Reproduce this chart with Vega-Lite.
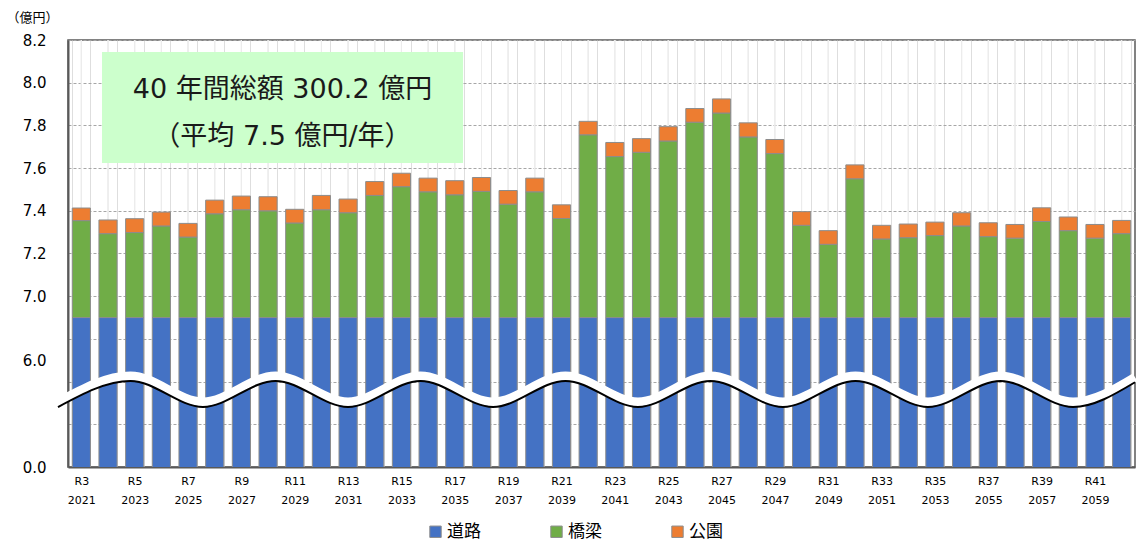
{
  "$schema": "https://vega.github.io/schema/vega-lite/v6.json",
  "width": 1067,
  "height": 427,
  "autosize": {"type": "none"},
  "padding": {"left": 68, "top": 40, "right": 12, "bottom": 75},
  "background": "white",
  "config": {
    "view": {"stroke": "#595959", "strokeWidth": 1.5},
    "font": "DejaVu Sans"
  },
  "datasets": {
    "costs": [
      {"year": 2021, "道路": 6.9, "橋梁": 0.454, "公園": 0.059},
      {"year": 2022, "道路": 6.9, "橋梁": 0.393, "公園": 0.064},
      {"year": 2023, "道路": 6.9, "橋梁": 0.398, "公園": 0.065},
      {"year": 2024, "道路": 6.9, "橋梁": 0.429, "公園": 0.065},
      {"year": 2025, "道路": 6.9, "橋梁": 0.377, "公園": 0.064},
      {"year": 2026, "道路": 6.9, "橋梁": 0.486, "公園": 0.064},
      {"year": 2027, "道路": 6.9, "橋梁": 0.505, "公園": 0.064},
      {"year": 2028, "道路": 6.9, "橋梁": 0.500, "公園": 0.066},
      {"year": 2029, "道路": 6.9, "橋梁": 0.443, "公園": 0.064},
      {"year": 2030, "道路": 6.9, "橋梁": 0.505, "公園": 0.067},
      {"year": 2031, "道路": 6.9, "橋梁": 0.491, "公園": 0.064},
      {"year": 2032, "道路": 6.9, "橋梁": 0.572, "公園": 0.065},
      {"year": 2033, "道路": 6.9, "橋梁": 0.613, "公園": 0.063},
      {"year": 2034, "道路": 6.9, "橋梁": 0.589, "公園": 0.064},
      {"year": 2035, "道路": 6.9, "橋梁": 0.575, "公園": 0.066},
      {"year": 2036, "道路": 6.9, "橋梁": 0.591, "公園": 0.065},
      {"year": 2037, "道路": 6.9, "橋梁": 0.531, "公園": 0.064},
      {"year": 2038, "道路": 6.9, "橋梁": 0.589, "公園": 0.064},
      {"year": 2039, "道路": 6.9, "橋梁": 0.464, "公園": 0.064},
      {"year": 2040, "道路": 6.9, "橋梁": 0.856, "公園": 0.063},
      {"year": 2041, "道路": 6.9, "橋梁": 0.754, "公園": 0.066},
      {"year": 2042, "道路": 6.9, "橋梁": 0.774, "公園": 0.064},
      {"year": 2043, "道路": 6.9, "橋梁": 0.827, "公園": 0.067},
      {"year": 2044, "道路": 6.9, "橋梁": 0.915, "公園": 0.064},
      {"year": 2045, "道路": 6.9, "橋梁": 0.958, "公園": 0.066},
      {"year": 2046, "道路": 6.9, "橋梁": 0.846, "公園": 0.066},
      {"year": 2047, "道路": 6.9, "橋梁": 0.768, "公園": 0.066},
      {"year": 2048, "道路": 6.9, "橋梁": 0.432, "公園": 0.064},
      {"year": 2049, "道路": 6.9, "橋梁": 0.343, "公園": 0.064},
      {"year": 2050, "道路": 6.9, "橋梁": 0.650, "公園": 0.065},
      {"year": 2051, "道路": 6.9, "橋梁": 0.368, "公園": 0.064},
      {"year": 2052, "道路": 6.9, "橋梁": 0.374, "公園": 0.064},
      {"year": 2053, "道路": 6.9, "橋梁": 0.384, "公園": 0.063},
      {"year": 2054, "道路": 6.9, "橋梁": 0.429, "公園": 0.062},
      {"year": 2055, "道路": 6.9, "橋梁": 0.379, "公園": 0.065},
      {"year": 2056, "道路": 6.9, "橋梁": 0.372, "公園": 0.064},
      {"year": 2057, "道路": 6.9, "橋梁": 0.450, "公園": 0.064},
      {"year": 2058, "道路": 6.9, "橋梁": 0.407, "公園": 0.064},
      {"year": 2059, "道路": 6.9, "橋梁": 0.372, "公園": 0.064},
      {"year": 2060, "道路": 6.9, "橋梁": 0.393, "公園": 0.062}
    ],
    "wave": [
      {"pos": -0.375, "level": 6.481},
      {"pos": 2.343, "level": 6.603},
      {"pos": 5.061, "level": 6.481},
      {"pos": 7.779, "level": 6.603},
      {"pos": 10.497, "level": 6.481},
      {"pos": 13.215, "level": 6.603},
      {"pos": 15.933, "level": 6.481},
      {"pos": 18.65, "level": 6.603},
      {"pos": 21.368, "level": 6.481},
      {"pos": 24.086, "level": 6.603},
      {"pos": 26.804, "level": 6.481},
      {"pos": 29.522, "level": 6.603},
      {"pos": 32.24, "level": 6.481},
      {"pos": 34.958, "level": 6.603},
      {"pos": 37.676, "level": 6.481},
      {"pos": 40.0, "level": 6.597}
    ]
  },
  "layer": [
    {
      "data": {"name": "costs"},
      "transform": [{"fold": ["道路", "橋梁", "公園"], "as": ["区分", "億円"]}],
      "encoding": {
        "x": {
          "field": "year",
          "type": "ordinal",
          "scale": {"paddingInner": 0.32, "paddingOuter": 0.16},
          "axis": {
            "title": null,
            "ticks": false,
            "grid": true,
            "tickBand": "extent",
            "gridColor": "#dedede",
            "gridWidth": 1,
            "labelAngle": 0,
            "labelFont": "DejaVu Sans",
            "labelFontSize": 11,
            "labelColor": "#000000",
            "labelPadding": 8,
            "labelLineHeight": 19,
            "labelOverlap": false,
            "labelExpr": "datum.value % 2 == 1 ? ['R' + (datum.value - 2018), '' + datum.value] : ''",
            "domainColor": "#595959",
            "domainWidth": 2
          }
        }
      },
      "layer": [
        {
          "mark": {"type": "rule", "color": "#ececec", "strokeWidth": 1},
          "encoding": {}
        },
        {
          "mark": {"type": "bar", "clip": true, "stroke": "#8c8c8c", "strokeWidth": 1},
          "encoding": {
            "y": {
              "field": "億円",
              "type": "quantitative",
              "stack": "zero",
              "scale": {"domain": [6.2, 8.2], "nice": false, "zero": false},
              "axis": {
                "title": "（億円）",
                "titleAngle": 0,
                "titleAlign": "left",
                "titleBaseline": "middle",
                "titleX": -62,
                "titleY": -23,
                "titleFont": "Noto Sans CJK JP",
                "titleFontSize": 13,
                "titleFontWeight": "normal",
                "titleColor": "#000000",
                "values": [6.2, 6.4, 6.6, 6.7, 6.8, 7.0, 7.2, 7.4, 7.6, 7.8, 8.0, 8.2],
                "labelExpr": "datum.value == 6.2 ? '0.0' : (datum.value == 6.7 ? '6.0' : (datum.value >= 6.99 ? format(datum.value, '.1f') : ''))",
                "ticks": false,
                "labelPadding": 22,
                "labelFont": "DejaVu Sans",
                "labelFontSize": 15,
                "labelColor": "#000000",
                "grid": true,
                "gridDash": [3, 2],
                "gridWidth": 1,
                "gridColor": {"condition": {"test": "datum.value == 6.7", "value": "rgba(0,0,0,0)"}, "value": "#a6a6a6"},
                "domainColor": "#595959",
                "domainWidth": 2
              }
            },
            "color": {
              "field": "区分",
              "type": "nominal",
              "sort": ["道路", "橋梁", "公園"],
              "scale": {"domain": ["道路", "橋梁", "公園"], "range": ["#4472C4", "#70AD47", "#ED7D31"]},
              "legend": {
                "orient": "none",
                "legendX": 359,
                "legendY": 483,
                "direction": "horizontal",
                "title": null,
                "symbolType": "square",
                "symbolSize": 130,
                "symbolStrokeColor": "#8c8c8c",
                "symbolStrokeWidth": 1,
                "labelFont": "Noto Sans CJK JP",
                "labelFontSize": 17,
                "labelColor": "#000000",
                "labelOffset": 3,
                "columnPadding": 67
              }
            }
          }
        }
      ]
    },
    {
      "layer": [
        {
          "data": {"name": "wave"},
          "mark": {"type": "line", "interpolate": "monotone", "color": "white", "strokeWidth": 9, "yOffset": -5, "strokeCap": "butt"},
          "encoding": {
            "x": {"field": "pos", "type": "quantitative", "scale": {"domain": [0, 40], "nice": false, "zero": false}, "axis": null},
            "y": {"field": "level", "type": "quantitative", "scale": {"domain": [6.2, 8.2], "nice": false, "zero": false}, "axis": null}
          }
        },
        {
          "data": {"name": "wave"},
          "mark": {"type": "line", "interpolate": "monotone", "color": "#000000", "strokeWidth": 2},
          "encoding": {
            "x": {"field": "pos", "type": "quantitative", "scale": {"domain": [0, 40], "nice": false, "zero": false}, "axis": null},
            "y": {"field": "level", "type": "quantitative", "scale": {"domain": [6.2, 8.2], "nice": false, "zero": false}, "axis": null}
          }
        },
        {
          "data": {"values": [{}]},
          "mark": {"type": "rect", "fill": "#CCFFCC"},
          "encoding": {
            "x": {"datum": 1.275, "type": "quantitative", "scale": {"domain": [0, 40], "nice": false, "zero": false}, "axis": null},
            "x2": {"datum": 14.81},
            "y": {"datum": 8.144, "type": "quantitative", "scale": {"domain": [6.2, 8.2], "nice": false, "zero": false}, "axis": null},
            "y2": {"datum": 7.624}
          }
        },
        {
          "data": {"values": [{}]},
          "mark": {"type": "text", "font": "DejaVu Sans, Noto Sans CJK JP", "fontSize": 27, "color": "#1a1a1a", "align": "center", "baseline": "middle"},
          "encoding": {
            "x": {"datum": 8.04, "type": "quantitative", "scale": {"domain": [0, 40], "nice": false, "zero": false}, "axis": null},
            "y": {"datum": 7.966, "type": "quantitative", "scale": {"domain": [6.2, 8.2], "nice": false, "zero": false}, "axis": null},
            "text": {"value": "40 年間総額 300.2 億円"}
          }
        },
        {
          "data": {"values": [{}]},
          "mark": {"type": "text", "font": "DejaVu Sans, Noto Sans CJK JP", "fontSize": 27, "color": "#1a1a1a", "align": "center", "baseline": "middle"},
          "encoding": {
            "x": {"datum": 8.04, "type": "quantitative", "scale": {"domain": [0, 40], "nice": false, "zero": false}, "axis": null},
            "y": {"datum": 7.747, "type": "quantitative", "scale": {"domain": [6.2, 8.2], "nice": false, "zero": false}, "axis": null},
            "text": {"value": "（平均 7.5 億円/年）"}
          }
        }
      ]
    }
  ],
  "resolve": {"scale": {"x": "independent", "y": "independent"}}
}
